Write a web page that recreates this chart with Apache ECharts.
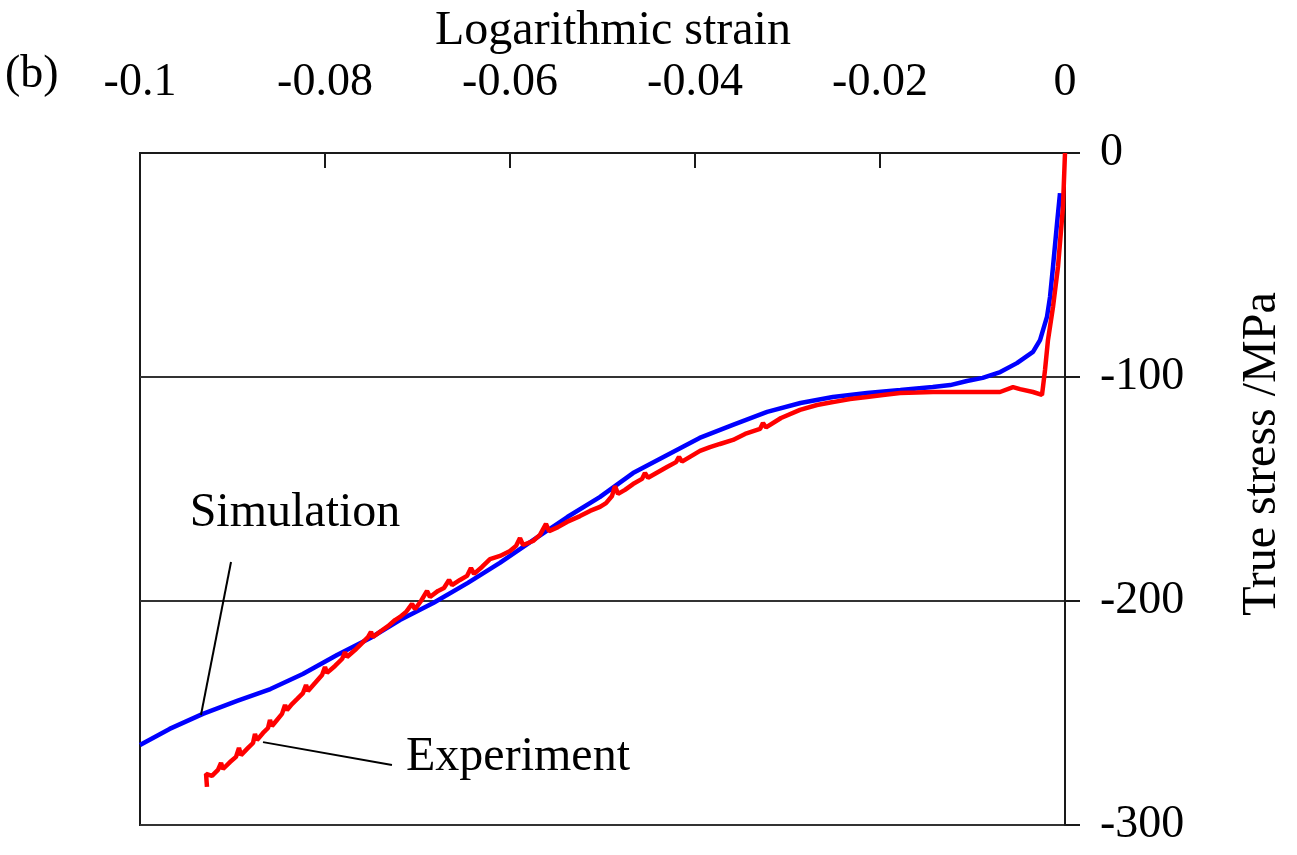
<!DOCTYPE html>
<html>
<head>
<meta charset="utf-8">
<script src="https://cdn.jsdelivr.net/npm/echarts@6/dist/echarts.min.js"></script>
<style>
  html, body { margin: 0; padding: 0; background: #fff; }
  #chart { width: 1297px; height: 855px; }
</style>
</head>
<body>
<div id="chart"></div>
<script>
// Axis ticks
const strainTicks = [-0.1, -0.08, -0.06, -0.04, -0.02, 0];
const stressTicks = [-300, -200, -100, 0];

// Simulation curve: [logarithmic strain, true stress / MPa]
const simStrain = [-0.1000, -0.0968, -0.0932, -0.0895, -0.0859, -0.0824, -0.0787, -0.0751, -0.0719, -0.0683,
  -0.0646, -0.0611, -0.0575, -0.0538, -0.0503, -0.0467, -0.0430, -0.0395, -0.0359, -0.0322,
  -0.0286, -0.0251, -0.0214, -0.0178, -0.0143, -0.0124, -0.0106, -0.0089, -0.0070, -0.0052,
  -0.00346, -0.00270, -0.00195, -0.00162, -0.00130, -0.00086, -0.00054];
const simStress = [-264.3, -257.1, -250.4, -244.6, -239.3, -232.6, -224.1, -216.5, -208.5, -200.9,
  -192.0, -183.0, -172.8, -162.5, -153.6, -142.9, -134.8, -127.2, -121.4, -115.6,
  -111.6, -108.9, -107.1, -105.8, -104.5, -103.6, -101.8, -100.4, -97.8, -93.8,
  -88.8, -83.5, -73.2, -64.3, -50.9, -31.3, -17.9];

// Experimental curve (serrated flow in the hardening range)
const expStrain = [-0.09276, -0.09286, -0.09222, -0.09157, -0.09124, -0.09103, -0.09027, -0.08962, -0.08930, -0.08908,
  -0.08832, -0.08778, -0.08757, -0.08735, -0.08670, -0.08616, -0.08595, -0.08573, -0.08519, -0.08465,
  -0.08432, -0.08411, -0.08357, -0.08303, -0.08238, -0.08205, -0.08184, -0.08108, -0.08032, -0.08000,
  -0.07978, -0.07892, -0.07816, -0.07784, -0.07762, -0.07676, -0.07600, -0.07535, -0.07503, -0.07481,
  -0.07395, -0.07319, -0.07243, -0.07189, -0.07124, -0.07059, -0.07027, -0.06962, -0.06897, -0.06865,
  -0.06778, -0.06714, -0.06659, -0.06627, -0.06541, -0.06465, -0.06422, -0.06389, -0.06303, -0.06216,
  -0.06108, -0.06000, -0.05935, -0.05892, -0.05859, -0.05751, -0.05676, -0.05611, -0.05578, -0.05481,
  -0.05384, -0.05243, -0.05135, -0.05027, -0.04962, -0.04897, -0.04865, -0.04832, -0.04757, -0.04670,
  -0.04573, -0.04541, -0.04508, -0.04303, -0.04205, -0.04173, -0.04141, -0.03946, -0.03838, -0.03730,
  -0.03589, -0.03459, -0.03297, -0.03265, -0.03232, -0.03070,
  -0.02865, -0.02681, -0.02508, -0.02324, -0.02141, -0.01968, -0.01784, -0.01600, -0.01427, -0.01243,
  -0.01059, -0.00886, -0.00703, -0.00562, -0.00486, -0.00346, -0.00249, -0.00238, -0.00216, -0.00184,
  -0.00130, -0.00076, -0.00022, 0];
const expStress = [-283.0, -277.2, -278.1, -275.4, -272.3, -275.0, -271.9, -269.6, -265.6, -268.8,
  -265.6, -263.4, -259.4, -262.1, -258.9, -256.7, -253.1, -255.8, -253.1, -250.4,
  -246.4, -248.7, -246.0, -243.8, -241.1, -237.5, -240.2, -236.6, -233.0, -229.5,
  -232.1, -229.0, -225.9, -222.8, -225.0, -221.9, -218.8, -216.1, -213.8, -216.1,
  -213.4, -211.2, -208.5, -207.1, -204.9, -201.3, -203.6, -200.0, -195.5, -198.2,
  -195.5, -194.2, -190.6, -192.9, -190.6, -188.8, -185.3, -187.9, -184.8, -181.3,
  -179.9, -177.7, -175.4, -171.9, -175.0, -173.2, -170.5, -165.6, -168.8, -167.0,
  -164.7, -162.1, -159.8, -158.0, -156.3, -153.1, -148.7, -152.2, -150.4, -147.8,
  -145.5, -142.9, -145.0, -140.2, -138.0, -135.7, -137.8, -133.0, -131.3, -129.9,
  -128.1, -125.4, -123.2, -120.5, -122.5, -118.3,
  -114.7, -112.5, -111.2, -109.8, -108.9, -108.0, -107.1, -106.9, -106.7, -106.7,
  -106.7, -106.7, -106.7, -104.5, -105.4, -106.7, -108.0, -104.5, -96.9, -83.5,
  -68.8, -50.9, -24.1, 0];

// Leader lines from the curve labels to the curves
const simLeader = [[-0.09016, -182.6], [-0.09341, -250.9]];
const expLeader = [[-0.08670, -263.0], [-0.07276, -273.2]];

const FONT = '"Liberation Serif", "Times New Roman", serif';
const FS = 46;
const FS_TITLE = 48;

const zip = (xs, ys) => xs.map((x, i) => [x, ys[i]]);

const chart = echarts.init(document.getElementById('chart'), null, { renderer: 'canvas' });

const leaderStyle = { color: '#000', width: 2, type: 'solid' };

chart.setOption({
  animation: false,
  backgroundColor: '#fff',
  grid: {
    left: 140, right: 232, top: 153, bottom: 30,
    show: true, borderColor: '#1a1a1a', borderWidth: 2, backgroundColor: 'transparent'
  },
  xAxis: {
    type: 'value',
    position: 'top',
    min: strainTicks[0],
    max: strainTicks[strainTicks.length - 1],
    interval: 0.02,
    axisLine: { show: true, lineStyle: { color: '#1a1a1a', width: 2 } },
    axisTick: { show: true, inside: true, length: 15, lineStyle: { color: '#1a1a1a', width: 2 } },
    splitLine: { show: false },
    axisLabel: {
      margin: 47,
      color: '#000',
      fontFamily: FONT,
      fontSize: FS,
      formatter: v => {
        const t = strainTicks.find(s => Math.abs(s - v) < 1e-9);
        return t === undefined ? '' : String(t);
      }
    }
  },
  yAxis: {
    type: 'value',
    position: 'right',
    min: stressTicks[0],
    max: stressTicks[stressTicks.length - 1],
    interval: 100,
    axisLine: { show: true, lineStyle: { color: '#1a1a1a', width: 2 } },
    axisTick: { show: true, inside: false, length: 15, lineStyle: { color: '#1a1a1a', width: 2 } },
    splitLine: { show: true, lineStyle: { color: '#333', width: 2 } },
    axisLabel: {
      margin: 35,
      color: '#000',
      fontFamily: FONT,
      fontSize: FS,
      align: 'left'
    }
  },
  series: [
    {
      name: 'Simulation',
      type: 'line',
      data: zip(simStrain, simStress),
      showSymbol: false,
      smooth: false,
      lineStyle: { color: '#0000ff', width: 4.5 },
      z: 3,
      markLine: {
        silent: true,
        symbol: ['none', 'none'],
        label: { show: false },
        lineStyle: leaderStyle,
        data: [[{ coord: simLeader[0] }, { coord: simLeader[1] }]]
      }
    },
    {
      name: 'Experiment',
      type: 'line',
      data: zip(expStrain, expStress),
      showSymbol: false,
      smooth: false,
      lineStyle: { color: '#ff0000', width: 4.5 },
      z: 4,
      markLine: {
        silent: true,
        symbol: ['none', 'none'],
        label: { show: false },
        lineStyle: leaderStyle,
        data: [[{ coord: expLeader[0] }, { coord: expLeader[1] }]]
      }
    }
  ],
  graphic: [
    { type: 'text', left: 5, top: 52,
      style: { text: '(b)', font: `${FS}px ${FONT}`, fill: '#000' } },
    { type: 'text', x: 613, y: 31,
      style: { text: 'Logarithmic strain', font: `${FS_TITLE}px ${FONT}`, fill: '#000', align: 'center', verticalAlign: 'middle' } },
    { type: 'text', x: 1262, y: 454, rotation: Math.PI / 2,
      style: { text: 'True stress /MPa', font: `${FS_TITLE}px ${FONT}`, fill: '#000', align: 'center', verticalAlign: 'middle' } },
    { type: 'text', x: 295, y: 513,
      style: { text: 'Simulation', font: `${FS_TITLE}px ${FONT}`, fill: '#000', align: 'center', verticalAlign: 'middle' } },
    { type: 'text', x: 518, y: 757,
      style: { text: 'Experiment', font: `${FS_TITLE}px ${FONT}`, fill: '#000', align: 'center', verticalAlign: 'middle' } }
  ]
});
</script>
</body>
</html>
